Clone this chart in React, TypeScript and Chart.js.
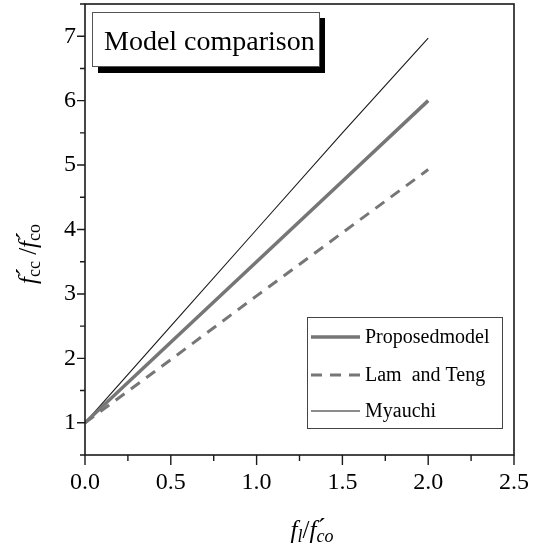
import { useEffect, useRef } from 'react';
import { Chart, registerables } from 'chart.js';

Chart.register(...registerables);

const xValues = [0, 0.5, 1.0, 1.5, 2.0];
const proposedModel = [1, 2.25, 3.5, 4.75, 6.0];
const lamAndTeng = [1, 1.98, 2.97, 3.95, 4.93];
const myauchi = [1, 2.5, 4.0, 5.5, 6.97];
const seriesNames = ['Proposedmodel', 'Lam  and Teng', 'Myauchi'];
const xTickLabels = ['0.0', '0.5', '1.0', '1.5', '2.0', '2.5'];
const yTickLabels = ['1', '2', '3', '4', '5', '6', '7'];
const chartTitle = 'Model comparison';

const SERIF = '"Liberation Serif", "DejaVu Serif", serif';

type Seg = { t: string; italic?: boolean; sub?: boolean; accent?: boolean };

function drawRich(ctx: CanvasRenderingContext2D, segs: Seg[], cx: number, cy: number, size: number, rotate: boolean) {
  ctx.save();
  ctx.translate(cx, cy);
  if (rotate) ctx.rotate(-Math.PI / 2);
  const fontFor = (s: Seg) => `${s.italic ? 'italic ' : ''}${s.sub ? Math.round(size * 0.72) : size}px ${SERIF}`;
  let total = 0;
  const widths = segs.map((s) => {
    ctx.font = fontFor(s);
    const w = s.accent ? 0 : ctx.measureText(s.t).width;
    total += w;
    return w;
  });
  let x = -total / 2;
  ctx.fillStyle = '#000';
  ctx.textBaseline = 'alphabetic';
  ctx.textAlign = 'left';
  segs.forEach((s, i) => {
    ctx.font = fontFor(s);
    if (s.accent) {
      ctx.fillText(s.t, x + 1, size * 0.3 - size * 0.05);
    } else {
      ctx.fillText(s.t, x, size * 0.3 + (s.sub ? size * 0.18 : 0));
    }
    x += widths[i];
  });
  ctx.restore();
}

const decorPlugin = {
  id: 'decor',
  afterDraw(chart: any) {
    const { ctx, chartArea } = chart;
    const { left, right, top, bottom } = chartArea;
    const xs = chart.scales.x;
    const ys = chart.scales.y;
    ctx.save();
    // frame
    ctx.strokeStyle = '#1a1a1a';
    ctx.lineWidth = 1.6;
    ctx.strokeRect(left, top, right - left, bottom - top);
    // ticks
    ctx.lineWidth = 1.4;
    ctx.beginPath();
    xs.ticks.forEach((t: any) => {
      const px = xs.getPixelForValue(t.value);
      const major = Math.abs(t.value * 2 - Math.round(t.value * 2)) < 1e-6;
      ctx.moveTo(px, bottom);
      ctx.lineTo(px, bottom + (major ? 10 : 6));
    });
    ys.ticks.forEach((t: any) => {
      const py = ys.getPixelForValue(t.value);
      const major = Math.abs(t.value - Math.round(t.value)) < 1e-6;
      ctx.moveTo(left, py);
      ctx.lineTo(left - (major ? 8 : 5), py);
    });
    ctx.stroke();

    // axis titles
    drawRich(ctx, [
      { t: 'f', italic: true }, { t: '´', accent: true }, { t: 'cc', sub: true }, { t: ' /' },
      { t: 'f', italic: true }, { t: '´', accent: true }, { t: 'co', sub: true },
    ], 28, 254, 25, true);
    drawRich(ctx, [
      { t: 'f', italic: true }, { t: 'l', italic: true, sub: true }, { t: '/' },
      { t: 'f', italic: true }, { t: '´', accent: true }, { t: 'co', italic: true, sub: true },
    ], 312, 530, 25, false);

    // title box
    ctx.fillStyle = '#000';
    ctx.fillRect(98, 18, 227, 55);
    ctx.fillStyle = '#fff';
    ctx.fillRect(92, 12, 227, 54);
    ctx.strokeStyle = '#555';
    ctx.lineWidth = 1;
    ctx.strokeRect(92.5, 12.5, 227, 54);
    ctx.fillStyle = '#000';
    ctx.font = `28px ${SERIF}`;
    ctx.textAlign = 'left';
    ctx.textBaseline = 'alphabetic';
    ctx.fillText(chartTitle, 104, 50);

    // legend
    ctx.strokeStyle = '#444';
    ctx.lineWidth = 1;
    ctx.strokeRect(307.5, 317.5, 195, 111);
    const rows = [337, 375, 411];
    const styles = chart.data.datasets;
    rows.forEach((ry, i) => {
      const ds = styles[i];
      ctx.strokeStyle = ds.borderColor;
      ctx.lineWidth = ds.borderWidth;
      ctx.setLineDash(ds.borderDash || []);
      ctx.beginPath();
      ctx.moveTo(311, ry);
      ctx.lineTo(360, ry);
      ctx.stroke();
      ctx.setLineDash([]);
      ctx.fillStyle = '#000';
      ctx.font = `20px ${SERIF}`;
      ctx.textBaseline = 'middle';
      ctx.fillText(seriesNames[i], 365, ry + 1);
    });
    ctx.restore();
  },
};

export default function App() {
  const ref = useRef<HTMLCanvasElement>(null);
  useEffect(() => {
    const toPts = (ys: number[]) => xValues.map((x, i) => ({ x, y: ys[i] }));
    const chart = new Chart(ref.current as HTMLCanvasElement, {
      type: 'line',
      data: {
        datasets: [
          { label: seriesNames[0], data: toPts(proposedModel), borderColor: '#767676', borderWidth: 3.5, pointRadius: 0, fill: false },
          { label: seriesNames[1], data: toPts(lamAndTeng), borderColor: '#767676', borderWidth: 3, borderDash: [11, 8], pointRadius: 0, fill: false },
          { label: seriesNames[2], data: toPts(myauchi), borderColor: '#1a1a1a', borderWidth: 1.1, pointRadius: 0, fill: false },
        ],
      },
      options: {
        animation: false,
        responsive: false,
        layout: { padding: { top: 4, right: 25, left: 0, bottom: 0 } },
        plugins: { legend: { display: false }, tooltip: { enabled: false } },
        scales: {
          x: {
            type: 'linear',
            min: 0,
            max: 2.5,
            grid: { display: false, drawTicks: false },
            border: { display: false },
            ticks: {
              stepSize: 0.25,
              autoSkip: false,
              maxRotation: 0,
              padding: 13,
              color: '#000',
              font: { family: SERIF, size: 24 },
              callback: (v: any) => {
                const s = Number(v).toFixed(1);
                return Math.abs(v * 2 - Math.round(v * 2)) < 1e-6 && xTickLabels.includes(s) ? s : '';
              },
            },
            afterFit: (s: any) => { s.height = 91; s.paddingLeft = 0; s.paddingRight = 0; },
          },
          y: {
            min: 0.5,
            max: 7.5,
            grid: { display: false, drawTicks: false },
            border: { display: false },
            ticks: {
              stepSize: 0.5,
              autoSkip: false,
              padding: 9,
              color: '#000',
              font: { family: SERIF, size: 24 },
              callback: (v: any) => {
                const s = String(v);
                return yTickLabels.includes(s) ? s : '';
              },
            },
            afterFit: (s: any) => { s.width = 85; s.paddingTop = 0; s.paddingBottom = 0; },
          },
        },
      },
      plugins: [decorPlugin],
    });
    return () => chart.destroy();
  }, []);
  return (
    <div style={{ position: 'absolute', left: 0, top: 0, width: 539, height: 546, background: '#fff' }}>
      <canvas ref={ref} width={539} height={546} />
    </div>
  );
}
